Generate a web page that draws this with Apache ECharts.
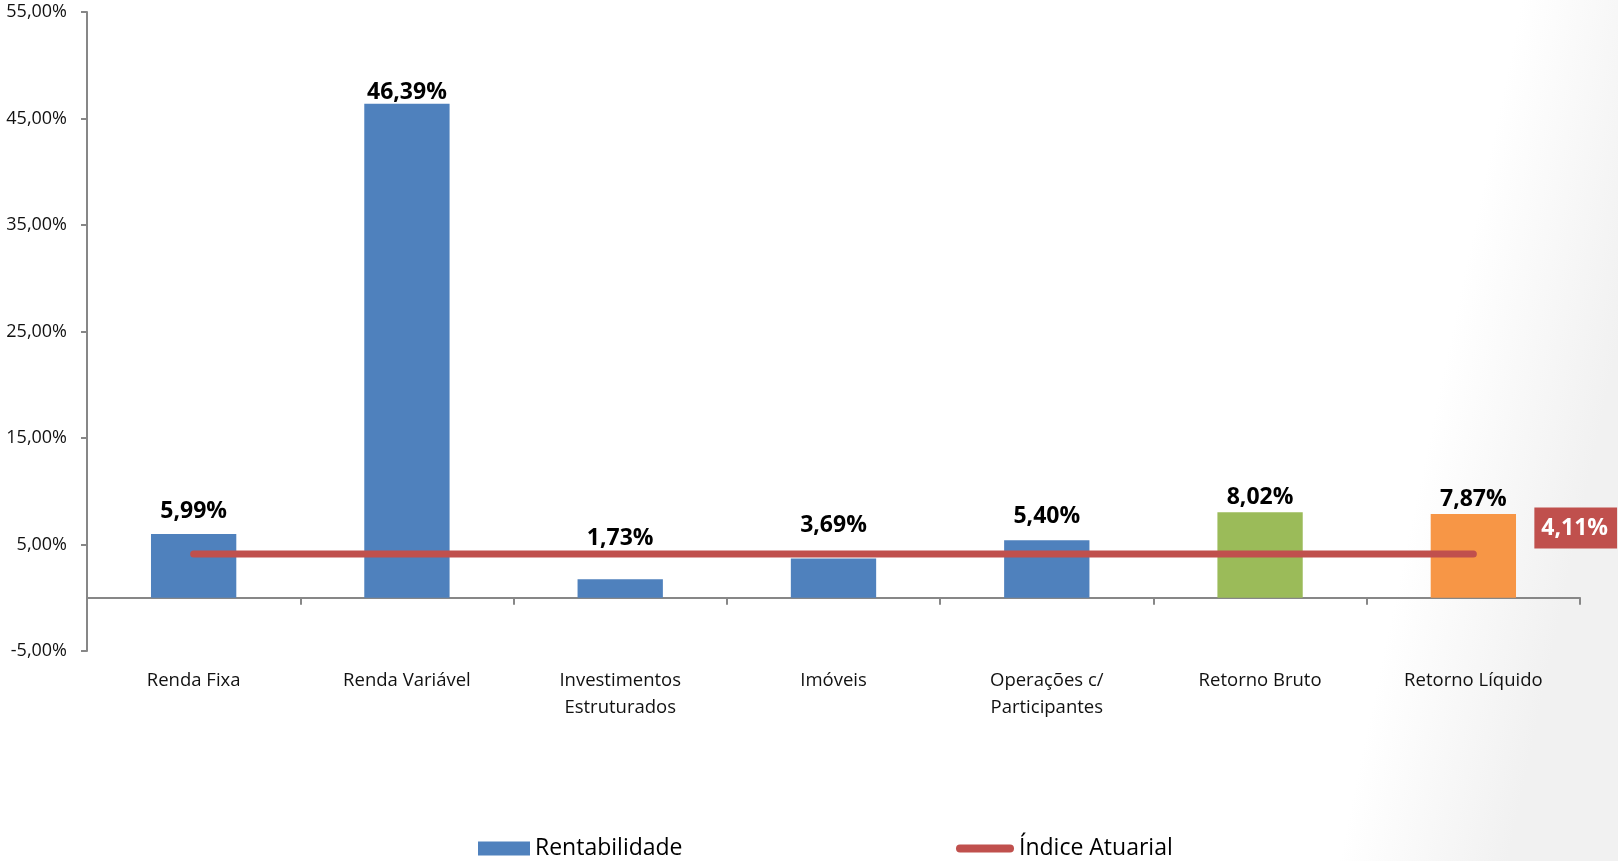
<!DOCTYPE html>
<html>
<head>
<meta charset="utf-8">
<script src="https://cdn.jsdelivr.net/npm/echarts@6/dist/echarts.min.js"></script>
<style>
html,body{margin:0;padding:0;background:#fff;}
#chart{width:1618px;height:861px;}
</style>
</head>
<body>
<div id="chart"></div>
<script>
// ---- data ----
const categories = ['Renda Fixa', 'Renda Variável', 'Investimentos\nEstruturados', 'Imóveis', 'Operações c/\nParticipantes', 'Retorno Bruto', 'Retorno Líquido'];
const rentabilidade = [5.99, 46.39, 1.73, 3.69, 5.40, 8.02, 7.87];
const indiceAtuarial = [4.11, 4.11, 4.11, 4.11, 4.11, 4.11, 4.11];
const yTicks = [-5, 5, 15, 25, 35, 45, 55];

// ---- styles ----
const barColors = ['#4F81BD', '#4F81BD', '#4F81BD', '#4F81BD', '#4F81BD', '#9BBB59', '#F79646'];
const labelOffsets = [-7, 4, -25, -17, -8, 1, 1];
const FONT = "'Open Sans', 'Noto Sans', sans-serif";
const fmt = v => v.toFixed(2).replace('.', ',') + '%';

const chart = echarts.init(document.getElementById('chart'));
chart.setOption({
  backgroundColor: {
    type: 'linear', x: 0, y: 0, x2: 1, y2: 0.4,
    colorStops: [{offset: 0, color: '#ffffff'}, {offset: 0.9, color: '#ffffff'}, {offset: 1, color: '#f1f1f1'}]
  },
  animation: false,
  grid: {left: 87, right: 38, top: 12, bottom: 210, containLabel: false},
  legend: [
    {
      data: ['Rentabilidade'], left: 473, top: 832, icon: 'rect',
      itemWidth: 52, itemHeight: 14, itemGap: 0,
      textStyle: {fontFamily: FONT, fontSize: 23, color: '#000'}
    },
    {
      data: [{name: 'Índice Atuarial', icon: 'path://M4,0 H54 A4,4 0 0 1 54,8 H4 A4,4 0 0 1 4,0 Z'}], left: 951, top: 832,
      itemWidth: 58, itemHeight: 8, itemGap: 0,
      textStyle: {fontFamily: FONT, fontSize: 23, color: '#000'}
    }
  ],
  xAxis: {
    type: 'category',
    data: categories,
    axisLine: {onZero: true, lineStyle: {color: '#878787', width: 2}},
    axisTick: {show: true, length: 7, alignWithLabel: false, interval: 0, lineStyle: {color: '#878787', width: 2}},
    axisLabel: {interval: 0, margin: 16, fontFamily: FONT, fontSize: 18.5, color: '#111', lineHeight: 27}
  },
  yAxis: {
    type: 'value', min: -5, max: 55,
    splitLine: {show: false},
    axisLine: {show: true, lineStyle: {color: '#878787', width: 2}},
    axisTick: {show: true, length: 6, customValues: yTicks, lineStyle: {color: '#878787', width: 2}},
    axisLabel: {customValues: yTicks, margin: 20, fontFamily: FONT, fontSize: 18, color: '#111', formatter: v => fmt(v)}
  },
  series: [
    {
      name: 'Rentabilidade', type: 'bar', barWidth: '40%',
      itemStyle: {color: '#4F81BD'},
      data: rentabilidade.map((v, i) => ({
        value: v,
        itemStyle: {color: barColors[i]},
        label: {offset: [0, labelOffsets[i]]}
      })),
      label: {
        show: true, position: 'top', distance: 4,
        fontFamily: FONT, fontSize: 23, fontWeight: 'bold', color: '#000',
        formatter: p => fmt(p.value)
      },
      z: 2
    },
    {
      name: 'Índice Atuarial', type: 'line', symbol: 'none', showSymbol: false,
      lineStyle: {color: '#C0504D', width: 7, cap: 'round'},
      itemStyle: {color: '#C0504D'},
      data: indiceAtuarial,
      endLabel: {
        show: true, distance: 61, offset: [0, -26],
        backgroundColor: '#C0504D', color: '#fff', padding: [9, 9, 9, 7],
        fontFamily: FONT, fontSize: 23, fontWeight: 'bold',
        formatter: p => fmt(p.value)
      },
      z: 3
    }
  ]
});
</script>
</body>
</html>
